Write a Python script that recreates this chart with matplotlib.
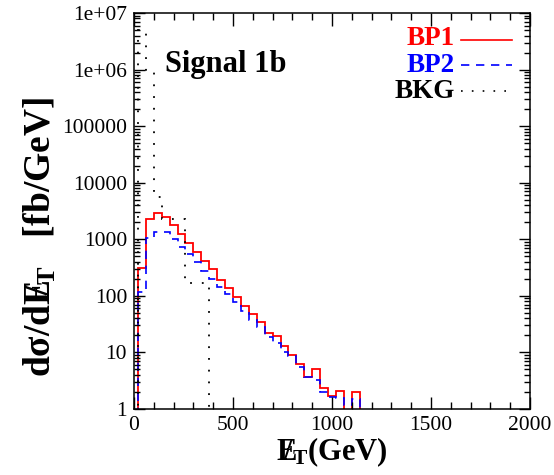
import matplotlib
matplotlib.use('Agg')
import matplotlib.pyplot as plt
import numpy as np
from matplotlib.ticker import FixedLocator, LogLocator, MultipleLocator, FixedFormatter, NullFormatter

# Times-like look, bold math for the MET symbol
plt.rcParams['font.family'] = 'Liberation Serif'
plt.rcParams['mathtext.fontset'] = 'custom'
plt.rcParams['mathtext.rm'] = 'Liberation Serif:bold'
plt.rcParams['mathtext.it'] = 'Liberation Serif:bold'
plt.rcParams['mathtext.bf'] = 'Liberation Serif:bold'

# MET histograms, 40 GeV bins starting at 20 GeV
edges = np.arange(20, 1141, 40)
bp1 = [306, 2240, 2950, 2500, 1790, 1240, 870, 590, 415, 295, 192, 139, 97, 65,
       47, 35, 22, 19.5, 13, 9.0, 6.2, 3.7, 5.0, 2.4, 1.7, 2.1, 0, 2.0]
bp2 = [117, 1054, 1345, 1345, 1012, 731, 550, 397, 275, 199, 142, 107, 79, 54,
       37, 28, 18.8, 14.7, 10.2, 8.5, 5.5, 3.7, 3.25, 2.0, 1.65, 1.58, 1.18, 1.5]
bkg_edges = np.arange(20, 381, 40)
bkg = [5.0e6, 9.1e5, 5600, 2280, 2280, 2280, 169, 169, 169]

y_ticks = [1, 10, 100, 1000, 10000, 100000, 1e6, 1e7]
y_ticklabels = ['1', '10', '100', '1000', '10000', '100000', '1e+06', '1e+07']
x_ticks = [0, 500, 1000, 1500, 2000]

floor = 1e-3  # empty bins drop below the axis

W, H = 554, 475
fig = plt.figure(figsize=(W / 100, H / 100), dpi=100)
ax = fig.add_axes([0.2419, 0.1389, 0.7148, 0.8337])

ax.stairs(np.where(np.array(bp1) > 0, bp1, floor), edges, baseline=floor,
          color='red', lw=1.3)
ax.stairs(np.where(np.array(bp2) > 0, bp2, floor), edges, baseline=floor,
          color='blue', lw=1.2, linestyle=(0, (5, 4)))
ax.stairs(bkg, bkg_edges, baseline=floor,
          color='black', lw=1.3, linestyle=(0, (1, 5.5)))

ax.set_yscale('log')
ax.set_xlim(0, 2000)
ax.set_ylim(1, 1e7)

ax.xaxis.set_major_locator(FixedLocator(x_ticks))
ax.xaxis.set_minor_locator(MultipleLocator(100))
ax.yaxis.set_major_locator(FixedLocator(y_ticks))
ax.yaxis.set_major_formatter(FixedFormatter(y_ticklabels))
ax.yaxis.set_minor_locator(LogLocator(base=10, subs=np.arange(2, 10)))
ax.yaxis.set_minor_formatter(NullFormatter())

ax.tick_params(which='both', direction='in', top=True, right=True,
               labelsize=15.5, width=1.0)
ax.tick_params(axis='x', which='major', length=9, pad=5)
ax.tick_params(axis='x', which='minor', length=5)
ax.tick_params(axis='y', which='major', length=8, pad=5)
ax.tick_params(axis='y', which='minor', length=4)
for s in ax.spines.values():
    s.set_linewidth(1.1)

ax.set_xlabel(r'$E\!\!\!/_{T}$(GeV)', fontsize=22, fontweight='bold', labelpad=0)
ax.set_ylabel(r'd$\sigma$/d$E\!\!\!/_{T}$   [fb/GeV]', fontsize=27, fontweight='bold')
ax.yaxis.label.set_va('center')
ax.yaxis.set_label_coords(-0.237, 0.434)

ax.text(0.078, 0.851, 'Signal 1b', transform=ax.transAxes, fontsize=22,
        fontweight='bold', va='baseline', ha='left')

# legend drawn by hand: right-aligned names, samples to the right
legend_rows = [('BP1', 'red', '-', 0.919, 0.932),
               ('BP2', 'blue', (0, (5, 4)), 0.851, 0.869),
               ('BKG', 'black', (0, (1, 5.5)), 0.785, 0.803)]
for name, col, ls, yb, yl in legend_rows:
    ax.text(0.8106, yb, name, transform=ax.transAxes, color=col, fontsize=19.5,
            fontweight='bold', ha='right', va='baseline')
    ax.plot([0.825, 0.955], [yl, yl], transform=ax.transAxes, color=col,
            lw=1.2, linestyle=ls)

fig.savefig('out.png', dpi=100)
